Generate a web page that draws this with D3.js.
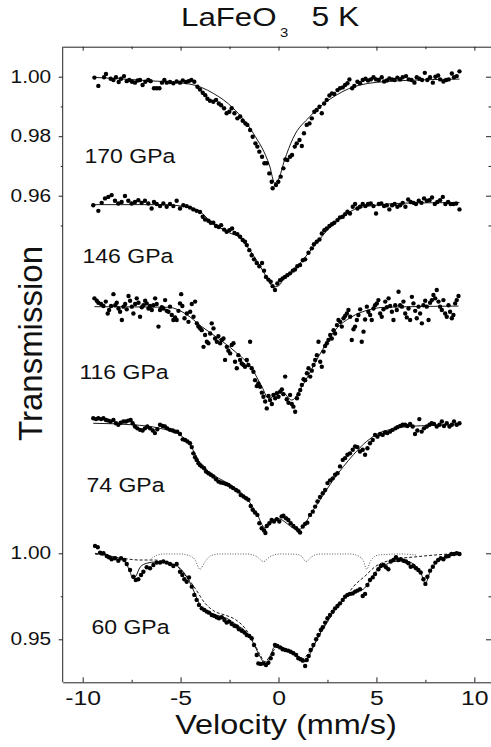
<!DOCTYPE html>
<html>
<head>
<meta charset="utf-8">
<script src="https://cdn.jsdelivr.net/npm/d3@7"></script>
<style>
  body { margin: 0; background: #fff; }
  svg { display: block; }
  svg text { font-family: "Liberation Sans", Arial, Helvetica, sans-serif; fill: #111; }
</style>
</head>
<body>
<div id="chart"></div>
<script>
// velocity (mm/s), transmission; middle spectra normalised to baseline 1 and shifted by offsets
const s170 = [
[-9.40,0.9997],[-9.20,0.9969],[-8.91,0.9998],[-8.81,1.0009],[-8.57,0.9993],[-8.43,0.9989],[-8.30,0.9998],[-8.16,0.9982],
[-8.04,0.9993],[-7.89,1.0002],[-7.75,0.9985],[-7.62,0.9989],[-7.48,0.9983],[-7.33,0.9980],[-7.19,0.9987],[-7.07,0.9989],
[-6.94,0.9972],[-6.80,0.9983],[-6.65,0.9989],[-6.53,0.9985],[-6.36,0.9961],[-6.22,0.9961],[-6.08,0.9961],[-5.95,0.9980],
[-5.83,0.9989],[-5.71,0.9980],[-5.54,0.9982],[-5.37,0.9978],[-5.20,0.9984],[-5.03,0.9980],[-4.89,0.9987],[-4.72,0.9982],
[-4.59,0.9985],[-4.45,0.9989],[-4.30,0.9983],[-4.14,0.9966],[-4.01,0.9957],[-3.87,0.9946],[-3.74,0.9938],[-3.63,0.9926],
[-3.50,0.9919],[-3.33,0.9916],[-3.19,0.9922],[-3.05,0.9910],[-2.93,0.9904],[-2.78,0.9894],[-2.65,0.9877],[-2.51,0.9882],
[-2.39,0.9894],[-2.25,0.9877],[-2.10,0.9860],[-1.96,0.9866],[-1.83,0.9852],[-1.69,0.9843],[-1.59,0.9838],[-1.45,0.9821],
[-1.32,0.9798],[-1.18,0.9776],[-1.08,0.9765],[-0.98,0.9748],[-0.84,0.9731],[-0.72,0.9709],[-0.60,0.9709],[-0.47,0.9675],
[-0.35,0.9647],[-0.30,0.9625],[-0.13,0.9636],[-0.01,0.9647],[0.11,0.9664],[0.25,0.9692],[0.35,0.9722],[0.45,0.9720],
[0.59,0.9731],[0.69,0.9737],[0.83,0.9765],[0.93,0.9776],[1.07,0.9787],[1.19,0.9767],[1.30,0.9810],[1.44,0.9838],
[1.58,0.9843],[1.70,0.9860],[1.83,0.9882],[1.95,0.9888],[2.09,0.9899],[2.21,0.9877],[2.33,0.9910],[2.46,0.9922],
[2.60,0.9937],[2.73,0.9944],[2.85,0.9942],[3.01,0.9955],[3.14,0.9961],[3.28,0.9964],[3.40,0.9972],[3.52,0.9978],
[3.62,0.9991],[3.76,0.9961],[3.87,0.9969],[4.03,0.9983],[4.16,0.9978],[4.30,0.9989],[4.44,0.9993],[4.57,0.9987],
[4.71,0.9991],[4.85,0.9998],[4.98,0.9991],[5.12,0.9989],[5.27,0.9998],[5.39,0.9984],[5.53,0.9987],[5.66,0.9994],
[5.80,0.9991],[5.93,0.9989],[6.07,0.9997],[6.21,0.9991],[6.34,0.9998],[6.51,1.0002],[6.65,0.9991],[6.79,0.9989],
[6.94,0.9980],[7.06,0.9998],[7.19,0.9993],[7.33,0.9989],[7.47,1.0013],[7.60,0.9989],[7.74,0.9998],[7.88,0.9980],
[8.01,1.0000],[8.15,1.0004],[8.25,0.9991],[8.42,0.9984],[8.56,0.9989],[8.69,0.9991],[8.85,1.0011],[8.96,0.9998],
[9.10,1.0002],[9.24,1.0018]
];
const fit170 = [[-9.46,0.9998],[-6.73,0.9987],[-4.52,0.9975],[-3.33,0.9944],[-2.31,0.9894],[-1.29,0.9810],[-0.44,0.9697],
[-0.20,0.9643],[0.00,0.9655],[0.30,0.9718],[0.74,0.9793],[1.60,0.9866],[3.00,0.9940],[4.15,0.9972],[5.80,0.9985],[9.24,0.9992]];

const s146 = [
[-9.46,0.9993],[-9.20,0.9974],[-9.03,1.0001],[-8.86,1.0016],[-8.69,1.0021],[-8.52,1.0027],[-8.35,1.0008],[-8.18,0.9999],
[-8.01,1.0004],[-7.84,1.0024],[-7.67,1.0008],[-7.50,0.9999],[-7.33,1.0004],[-7.16,1.0010],[-6.99,1.0001],[-6.82,1.0008],
[-6.65,0.9999],[-6.48,0.9982],[-6.36,1.0004],[-6.22,0.9997],[-6.05,0.9990],[-5.88,0.9999],[-5.71,0.9988],[-5.54,0.9997],
[-5.37,0.9990],[-5.20,1.0008],[-5.03,0.9982],[-4.86,0.9993],[-4.69,0.9990],[-4.52,0.9985],[-4.35,0.9979],[-4.18,0.9974],
[-4.01,0.9970],[-3.87,0.9954],[-3.75,0.9945],[-3.58,0.9941],[-3.46,0.9934],[-3.33,0.9934],[-3.19,0.9923],[-3.05,0.9920],
[-2.93,0.9926],[-2.78,0.9911],[-2.65,0.9904],[-2.51,0.9909],[-2.37,0.9915],[-2.25,0.9900],[-2.10,0.9896],[-1.96,0.9887],
[-1.83,0.9876],[-1.71,0.9870],[-1.62,0.9859],[-1.49,0.9842],[-1.37,0.9825],[-1.25,0.9811],[-1.11,0.9799],[-0.98,0.9788],
[-0.84,0.9799],[-0.74,0.9773],[-0.64,0.9752],[-0.52,0.9743],[-0.40,0.9736],[-0.30,0.9721],[-0.18,0.9708],[-0.06,0.9730],
[0.08,0.9741],[0.21,0.9747],[0.33,0.9752],[0.45,0.9758],[0.59,0.9764],[0.73,0.9773],[0.84,0.9777],[0.96,0.9788],
[1.10,0.9792],[1.24,0.9808],[1.36,0.9811],[1.53,0.9833],[1.70,0.9848],[1.81,0.9862],[1.95,0.9870],[2.09,0.9878],
[2.21,0.9898],[2.34,0.9909],[2.46,0.9915],[2.60,0.9923],[2.73,0.9929],[2.85,0.9934],[3.01,0.9943],[3.14,0.9952],
[3.28,0.9954],[3.40,0.9963],[3.52,0.9971],[3.65,0.9965],[3.79,0.9988],[3.91,0.9997],[4.03,0.9982],[4.16,0.9988],
[4.30,0.9997],[4.44,0.9990],[4.57,0.9997],[4.71,0.9999],[4.85,0.9990],[4.98,0.9965],[5.12,0.9997],[5.25,0.9999],
[5.39,0.9990],[5.53,0.9993],[5.66,0.9979],[5.80,0.9993],[5.93,0.9997],[6.07,0.9988],[6.21,0.9993],[6.34,1.0001],
[6.48,0.9988],[6.62,1.0012],[6.75,1.0004],[6.89,1.0001],[7.02,0.9997],[7.16,1.0008],[7.30,1.0001],[7.43,1.0016],
[7.57,1.0008],[7.71,1.0010],[7.84,1.0019],[7.98,0.9997],[8.11,1.0004],[8.25,1.0010],[8.39,1.0021],[8.52,0.9997],
[8.66,1.0004],[8.79,0.9997],[8.93,0.9997],[9.07,0.9999],[9.24,0.9979]
];
const fit146 = [[-9.46,0.9995],[-6.00,0.9995],[-4.50,0.9985],[-4.00,0.9972],[-3.50,0.9940],[-3.00,0.9918],[-2.50,0.9900],
[-2.00,0.9885],[-1.50,0.9845],[-1.00,0.9795],[-0.60,0.9750],[-0.25,0.9718],[0.00,0.9722],[0.30,0.9748],[0.70,0.9770],
[1.00,0.9790],[1.50,0.9830],[2.00,0.9870],[2.50,0.9910],[3.00,0.9940],[3.50,0.9965],[4.00,0.9982],[5.00,0.9993],
[6.50,1.0000],[9.24,1.0002]];

const s116 = [
[-9.40,1.0027],[-9.28,1.0019],[-9.20,1.0012],[-9.06,1.0008],[-8.94,1.0001],[-8.82,1.0016],[-8.72,0.9976],[-8.65,0.9988],
[-8.55,1.0001],[-8.43,1.0041],[-8.34,1.0004],[-8.26,1.0012],[-8.17,0.9993],[-8.09,0.9982],[-8.00,0.9954],[-7.92,0.9999],
[-7.83,1.0008],[-7.75,0.9990],[-7.66,1.0035],[-7.58,1.0019],[-7.49,0.9999],[-7.41,0.9976],[-7.32,1.0008],[-7.24,1.0027],
[-7.15,1.0012],[-7.07,0.9965],[-6.98,0.9997],[-6.90,1.0004],[-6.81,1.0019],[-6.73,1.0010],[-6.64,0.9993],[-6.56,1.0001],
[-6.47,0.9988],[-6.39,1.0004],[-6.30,1.0027],[-6.22,1.0008],[-6.13,0.9932],[-6.05,0.9988],[-5.96,0.9997],[-5.88,0.9993],
[-5.79,1.0021],[-5.71,0.9985],[-5.62,0.9982],[-5.54,0.9999],[-5.45,0.9971],[-5.37,0.9954],[-5.28,0.9963],[-5.20,0.9954],
[-5.11,0.9985],[-5.03,1.0010],[-4.97,1.0041],[-4.91,1.0001],[-4.80,0.9960],[-4.68,0.9976],[-4.60,0.9948],[-4.51,0.9982],
[-4.43,1.0008],[-4.34,0.9965],[-4.26,1.0016],[-4.17,0.9943],[-4.09,0.9932],[-4.00,0.9926],[-3.92,0.9920],[-3.83,0.9864],
[-3.75,0.9904],[-3.66,0.9881],[-3.58,0.9876],[-3.49,0.9909],[-3.41,0.9943],[-3.32,0.9926],[-3.24,0.9892],[-3.15,0.9881],
[-3.07,0.9900],[-2.98,0.9876],[-2.90,0.9887],[-2.81,0.9892],[-2.73,0.9820],[-2.64,0.9864],[-2.56,0.9851],[-2.47,0.9842],
[-2.39,0.9870],[-2.30,0.9876],[-2.22,0.9814],[-2.13,0.9792],[-2.05,0.9836],[-1.96,0.9820],[-1.88,0.9808],[-1.79,0.9803],
[-1.71,0.9797],[-1.62,0.9820],[-1.54,0.9803],[-1.45,0.9881],[-1.37,0.9792],[-1.28,0.9780],[-1.20,0.9752],[-1.11,0.9732],
[-1.03,0.9741],[-0.94,0.9730],[-0.85,0.9710],[-0.77,0.9696],[-0.68,0.9680],[-0.60,0.9657],[-0.51,0.9699],[-0.43,0.9685],
[-0.34,0.9672],[-0.26,0.9702],[-0.17,0.9691],[-0.09,0.9708],[0.00,0.9696],[0.08,0.9713],[0.17,0.9721],[0.25,0.9705],
[0.34,0.9764],[0.42,0.9688],[0.51,0.9676],[0.59,0.9702],[0.68,0.9672],[0.76,0.9663],[0.85,0.9646],[0.94,0.9691],
[1.02,0.9705],[1.11,0.9719],[1.19,0.9736],[1.28,0.9755],[1.36,0.9752],[1.45,0.9775],[1.53,0.9792],[1.62,0.9764],
[1.70,0.9784],[1.79,0.9803],[1.87,0.9820],[1.96,0.9836],[2.04,0.9881],[2.13,0.9814],[2.21,0.9797],[2.30,0.9848],
[2.38,0.9867],[2.47,0.9876],[2.55,0.9887],[2.64,0.9904],[2.72,0.9892],[2.81,0.9920],[2.89,0.9909],[2.98,0.9937],
[3.06,0.9954],[3.15,0.9948],[3.23,0.9932],[3.32,0.9960],[3.40,0.9968],[3.49,0.9976],[3.57,0.9988],[3.66,0.9965],
[3.74,0.9887],[3.83,0.9923],[3.91,0.9932],[4.00,0.9954],[4.08,0.9971],[4.17,0.9990],[4.25,0.9881],[4.34,0.9915],
[4.42,0.9956],[4.51,0.9999],[4.59,0.9982],[4.68,0.9971],[4.76,0.9954],[4.85,0.9993],[4.93,1.0004],[5.02,1.0010],
[5.10,1.0021],[5.19,0.9976],[5.27,0.9965],[5.36,0.9990],[5.45,1.0016],[5.53,0.9997],[5.62,1.0027],[5.70,1.0001],
[5.79,0.9982],[5.87,0.9954],[5.96,1.0004],[6.04,0.9988],[6.13,1.0049],[6.21,1.0004],[6.30,0.9999],[6.38,1.0016],
[6.47,0.9976],[6.55,0.9963],[6.64,0.9993],[6.72,0.9954],[6.81,1.0032],[6.89,1.0010],[6.98,0.9985],[7.06,0.9960],
[7.15,0.9999],[7.23,0.9976],[7.32,0.9943],[7.40,1.0004],[7.49,1.0019],[7.57,0.9999],[7.66,0.9954],[7.74,1.0012],
[7.83,1.0021],[7.91,1.0038],[8.00,1.0027],[8.08,1.0055],[8.17,1.0016],[8.25,0.9999],[8.34,0.9988],[8.42,1.0021],
[8.51,0.9976],[8.59,0.9965],[8.68,1.0004],[8.76,0.9982],[8.85,0.9960],[8.93,0.9971],[9.02,1.0010],[9.10,1.0021],
[9.19,1.0035]
];
const fit116 = [[-9.40,0.9999],[-5.62,0.9997],[-4.77,0.9976],[-3.92,0.9932],[-3.07,0.9892],[-2.22,0.9848],[-1.37,0.9792],
[-0.85,0.9730],[-0.51,0.9691],[0.17,0.9713],[0.68,0.9685],[1.19,0.9730],[2.04,0.9831],[2.89,0.9920],[3.74,0.9965],
[4.59,0.9988],[5.45,0.9997],[9.19,1.0001]];

const s74 = [
[-9.46,1.0019],[-9.32,1.0016],[-9.20,1.0019],[-9.06,1.0016],[-8.94,1.0019],[-8.81,1.0013],[-8.69,1.0011],[-8.57,1.0008],
[-8.43,1.0013],[-8.30,1.0002],[-8.18,0.9997],[-8.06,1.0004],[-7.92,1.0008],[-7.79,1.0008],[-7.67,1.0011],[-7.55,1.0013],
[-7.45,1.0002],[-7.33,0.9991],[-7.21,0.9985],[-7.07,0.9980],[-6.94,0.9978],[-6.82,0.9985],[-6.70,0.9991],[-6.56,0.9985],
[-6.42,0.9978],[-6.31,0.9969],[-6.19,0.9982],[-6.05,0.9997],[-5.91,0.9993],[-5.80,0.9991],[-5.68,0.9985],[-5.54,0.9980],
[-5.40,0.9978],[-5.28,0.9974],[-5.17,0.9974],[-5.03,0.9966],[-4.89,0.9948],[-4.77,0.9946],[-4.65,0.9941],[-4.52,0.9935],
[-4.43,0.9922],[-4.35,0.9901],[-4.26,0.9888],[-4.18,0.9879],[-4.09,0.9868],[-4.01,0.9862],[-3.92,0.9857],[-3.80,0.9851],
[-3.70,0.9840],[-3.58,0.9834],[-3.46,0.9829],[-3.33,0.9823],[-3.19,0.9814],[-3.07,0.9806],[-2.95,0.9803],[-2.82,0.9801],
[-2.68,0.9798],[-2.56,0.9795],[-2.44,0.9789],[-2.31,0.9784],[-2.17,0.9778],[-2.05,0.9773],[-1.93,0.9761],[-1.79,0.9756],
[-1.66,0.9750],[-1.54,0.9745],[-1.42,0.9724],[-1.32,0.9711],[-1.20,0.9702],[-1.08,0.9694],[-0.98,0.9666],[-0.86,0.9649],
[-0.74,0.9642],[-0.67,0.9633],[-0.60,0.9657],[-0.47,0.9666],[-0.35,0.9677],[-0.23,0.9672],[-0.09,0.9680],[0.04,0.9672],
[0.16,0.9689],[0.25,0.9691],[0.38,0.9683],[0.50,0.9677],[0.62,0.9666],[0.76,0.9657],[0.90,0.9649],[1.01,0.9642],
[1.10,0.9635],[1.24,0.9655],[1.36,0.9664],[1.47,0.9668],[1.61,0.9694],[1.75,0.9705],[1.87,0.9722],[1.99,0.9739],
[2.12,0.9754],[2.26,0.9767],[2.38,0.9778],[2.50,0.9801],[2.63,0.9810],[2.77,0.9817],[2.89,0.9829],[3.01,0.9834],
[3.14,0.9857],[3.28,0.9879],[3.40,0.9885],[3.52,0.9896],[3.65,0.9901],[3.79,0.9913],[3.91,0.9924],[4.03,0.9922],
[4.16,0.9907],[4.30,0.9913],[4.42,0.9896],[4.54,0.9918],[4.67,0.9935],[4.81,0.9946],[4.93,0.9963],[5.05,0.9957],
[5.19,0.9966],[5.32,0.9963],[5.44,0.9971],[5.56,0.9969],[5.70,0.9974],[5.83,0.9980],[5.97,0.9985],[6.07,0.9989],
[6.21,0.9993],[6.34,0.9997],[6.46,0.9997],[6.58,0.9993],[6.72,1.0000],[6.85,0.9991],[6.97,0.9966],[7.09,0.9978],
[7.19,1.0016],[7.31,0.9974],[7.43,0.9985],[7.57,0.9991],[7.71,0.9997],[7.82,1.0002],[7.94,1.0000],[8.08,0.9991],
[8.22,0.9997],[8.34,1.0008],[8.45,0.9993],[8.59,1.0002],[8.73,0.9991],[8.85,0.9997],[8.96,1.0008],[9.10,0.9997],
[9.24,1.0002]
];
const fit74 = [[-9.46,1.0002],[-7.45,0.9997],[-6.05,0.9985],[-5.03,0.9963],[-4.52,0.9930],[-4.01,0.9868],[-3.33,0.9829],
[-2.31,0.9789],[-1.63,0.9750],[-1.12,0.9700],[-0.69,0.9650],[-0.09,0.9683],[1.01,0.9644],[1.78,0.9711],[2.80,0.9812],
[3.82,0.9896],[4.50,0.9941],[5.35,0.9975],[7.05,0.9993],[9.24,0.9997]];

const s60 = [
[-9.37,1.0043],[-9.23,1.0035],[-9.11,1.0004],[-8.94,1.0000],[-8.77,0.9984],[-8.66,0.9977],[-8.52,0.9965],[-8.35,0.9971],
[-8.18,0.9957],[-8.04,0.9971],[-7.87,0.9961],[-7.75,0.9938],[-7.58,0.9903],[-7.41,0.9864],[-7.29,0.9845],[-7.16,0.9849],
[-7.02,0.9874],[-6.90,0.9893],[-6.73,0.9919],[-6.56,0.9913],[-6.39,0.9932],[-6.22,0.9946],[-6.05,0.9946],[-5.88,0.9952],
[-5.71,0.9946],[-5.54,0.9938],[-5.37,0.9926],[-5.20,0.9938],[-5.03,0.9893],[-4.91,0.9874],[-4.81,0.9849],[-4.69,0.9835],
[-4.57,0.9860],[-4.43,0.9806],[-4.30,0.9758],[-4.18,0.9729],[-4.06,0.9700],[-3.92,0.9680],[-3.79,0.9671],[-3.67,0.9661],
[-3.55,0.9655],[-3.41,0.9641],[-3.28,0.9636],[-3.16,0.9628],[-3.04,0.9622],[-2.90,0.9628],[-2.76,0.9612],[-2.65,0.9597],
[-2.53,0.9603],[-2.39,0.9589],[-2.25,0.9578],[-2.13,0.9574],[-2.02,0.9558],[-1.88,0.9550],[-1.74,0.9539],[-1.62,0.9525],
[-1.49,0.9519],[-1.37,0.9506],[-1.25,0.9467],[-1.11,0.9409],[-1.03,0.9360],[-0.91,0.9357],[-0.77,0.9360],[-0.64,0.9351],
[-0.52,0.9364],[-0.40,0.9390],[-0.30,0.9415],[-0.18,0.9467],[-0.06,0.9461],[0.08,0.9453],[0.21,0.9442],[0.35,0.9438],
[0.49,0.9434],[0.62,0.9428],[0.76,0.9419],[0.90,0.9409],[1.01,0.9390],[1.13,0.9384],[1.24,0.9376],[1.36,0.9345],
[1.44,0.9380],[1.54,0.9403],[1.64,0.9438],[1.78,0.9467],[1.92,0.9500],[2.04,0.9525],[2.16,0.9554],[2.26,0.9570],
[2.38,0.9597],[2.50,0.9622],[2.63,0.9641],[2.77,0.9661],[2.89,0.9680],[3.01,0.9694],[3.14,0.9709],[3.28,0.9729],
[3.40,0.9748],[3.52,0.9758],[3.65,0.9764],[3.79,0.9767],[3.91,0.9777],[4.03,0.9783],[4.16,0.9791],[4.30,0.9752],
[4.42,0.9764],[4.54,0.9816],[4.67,0.9845],[4.81,0.9860],[4.93,0.9880],[5.10,0.9907],[5.22,0.9926],[5.36,0.9932],
[5.49,0.9919],[5.61,0.9907],[5.73,0.9952],[5.87,0.9961],[6.00,0.9977],[6.12,0.9961],[6.24,0.9965],[6.38,0.9957],
[6.51,0.9952],[6.63,0.9942],[6.75,0.9922],[6.89,0.9926],[7.02,0.9913],[7.14,0.9903],[7.26,0.9888],[7.40,0.9849],
[7.50,0.9822],[7.60,0.9864],[7.74,0.9899],[7.88,0.9922],[8.01,0.9946],[8.15,0.9961],[8.28,0.9971],[8.42,0.9965],
[8.56,0.9981],[8.69,0.9984],[8.83,0.9996],[8.96,0.9996],[9.10,1.0000],[9.24,0.9996]
];
const fit60 = [[-9.37,1.0000],[-8.60,0.9984],[-8.09,0.9969],[-7.79,0.9942],[-7.58,0.9893],[-7.45,0.9855],[-7.28,0.9868],
[-7.07,0.9919],[-6.73,0.9942],[-6.22,0.9950],[-5.54,0.9942],[-5.03,0.9913],[-4.69,0.9864],[-4.35,0.9787],[-4.01,0.9700],
[-3.67,0.9667],[-3.16,0.9641],[-2.65,0.9622],[-2.13,0.9583],[-1.62,0.9539],[-1.28,0.9477],[-0.94,0.9399],[-0.69,0.9360],
[-0.43,0.9390],[-0.23,0.9453],[0.08,0.9457],[0.59,0.9428],[1.10,0.9395],[1.36,0.9370],[1.61,0.9415],[1.95,0.9496],
[2.46,0.9603],[2.97,0.9686],[3.48,0.9748],[3.99,0.9777],[4.33,0.9791],[4.59,0.9826],[4.93,0.9888],[5.36,0.9926],
[5.87,0.9952],[6.38,0.9957],[6.89,0.9938],[7.26,0.9888],[7.50,0.9826],[7.74,0.9893],[8.08,0.9952],[8.59,0.9981],
[9.24,0.9996]];
const dash60 = [[-9.37,0.9996],[-8.09,0.9973],[-7.07,0.9961],[-6.39,0.9961],[-5.71,0.9948],[-5.20,0.9926],[-4.77,0.9874],
[-4.26,0.9797],[-3.75,0.9709],[-3.24,0.9661],[-2.73,0.9641],[-2.22,0.9616],[-1.71,0.9564],[-1.28,0.9486],[-0.94,0.9409],
[-0.69,0.9370],[-0.35,0.9419],[-0.01,0.9461],[0.42,0.9438],[0.93,0.9403],[1.19,0.9384],[1.53,0.9419],[1.95,0.9496],
[2.46,0.9593],[2.97,0.9680],[3.40,0.9738],[3.82,0.9806],[4.42,0.9868],[4.93,0.9922],[5.78,0.9961],[7.14,0.9981],
[9.24,1.0000]];
const dot60 = [[-6.48,0.9971],[-6.22,0.9988],[-5.88,0.9996],[-5.03,0.9996],[-4.60,0.9988],[-4.26,0.9961],[-4.01,0.9907],
[-3.75,0.9952],[-3.41,0.9988],[-2.99,0.9996],[-1.62,0.9996],[-1.11,0.9981],[-0.77,0.9952],[-0.43,0.9981],[0.08,0.9996],
[0.93,0.9994],[1.19,0.9981],[1.41,0.9952],[1.70,0.9981],[2.12,0.9996],[3.65,0.9996],[4.08,0.9984],[4.33,0.9957],
[4.50,0.9907],[4.71,0.9957],[5.10,0.9990],[6.21,0.9996],[7.06,0.9990]];

const pressures = ["170 GPa", "146 GPa", "116 GPa", "74 GPa", "60 GPa"];
const offsets = [0, 0.0425, 0.0772, 0.1167, 0];
const xMajor = [-10, -5, 0, 5, 10];
const xMinor = [-7.5, -2.5, 2.5, 7.5];
const topMajor = [1.00, 0.98, 0.96];
const topMinor = [0.99, 0.97, 0.95];
const botMajor = [1.00, 0.95];
const botMinor = [0.975];

const W = 491, H = 747;
const pL = 62.7, pR = 491, pT = 46.7, pB = 682.3;
const SX = 1.18; // the scanned lettering is a bit wider than Arial

const svg = d3.select("#chart").append("svg").attr("width", W).attr("height", H);

const x = d3.scaleLinear().domain([-11.02, 10.85]).range([pL, pR]);
const yTop = d3.scaleLinear().domain([1.0, 0.96]).range([76.7, 195.7]);
const yBot = d3.scaleLinear().domain([1.0, 0.95]).range([553.3, 639.3]);

// frame + ticks
const axColor = "#222";
function clean(g) {
  g.attr("font-family", null).attr("font-size", null);
  g.selectAll("line").attr("stroke", axColor);
  g.select(".domain").attr("stroke", axColor);
}

const gxb = svg.append("g").attr("transform", `translate(0,${pB})`)
  .call(d3.axisBottom(x).tickValues(xMajor).tickSizeInner(-5).tickSizeOuter(0).tickPadding(8).tickFormat(d => String(d)));
clean(gxb);
gxb.selectAll("text").attr("font-size", 21).attr("transform", `scale(${SX},1)`);
const gxb2 = svg.append("g").attr("transform", `translate(0,${pB})`)
  .call(d3.axisBottom(x).tickValues(xMinor).tickSizeInner(-2.5).tickSizeOuter(0).tickFormat(""));
clean(gxb2); gxb2.select(".domain").remove();

const gxt = svg.append("g").attr("transform", `translate(0,${pT})`)
  .call(d3.axisTop(x).tickValues(xMajor).tickSizeInner(-4).tickSizeOuter(0).tickFormat(""));
clean(gxt);
const gxt2 = svg.append("g").attr("transform", `translate(0,${pT})`)
  .call(d3.axisTop(x).tickValues(xMinor).tickSizeInner(-2.5).tickSizeOuter(0).tickFormat(""));
clean(gxt2); gxt2.select(".domain").remove();

svg.append("line").attr("x1", pL).attr("x2", pL).attr("y1", pT).attr("y2", pB)
  .attr("stroke", axColor).attr("stroke-width", 1);

function yAxes(scale, major, minor) {
  const gl = svg.append("g").attr("transform", `translate(${pL},0)`)
    .call(d3.axisLeft(scale).tickValues(major).tickSizeInner(4).tickSizeOuter(0).tickPadding(7.5).tickFormat(d3.format(".2f")));
  clean(gl); gl.select(".domain").remove();
  gl.selectAll("text").attr("font-size", 17.7).attr("x", 0)
    .attr("transform", `translate(-11.5,0) scale(${SX},1)`);
  const gl2 = svg.append("g").attr("transform", `translate(${pL},0)`)
    .call(d3.axisLeft(scale).tickValues(minor).tickSizeInner(2).tickSizeOuter(0).tickFormat(""));
  clean(gl2); gl2.select(".domain").remove();
  const gr = svg.append("g").attr("transform", `translate(${pR},0)`)
    .call(d3.axisRight(scale).tickValues(major).tickSizeInner(-5).tickSizeOuter(0).tickFormat(""));
  clean(gr); gr.select(".domain").remove();
  const gr2 = svg.append("g").attr("transform", `translate(${pR},0)`)
    .call(d3.axisRight(scale).tickValues(minor).tickSizeInner(-2.5).tickSizeOuter(0).tickFormat(""));
  clean(gr2); gr2.select(".domain").remove();
}
yAxes(yTop, topMajor, topMinor);
yAxes(yBot, botMajor, botMinor);

// spectra
const spectra = [
  {pts: s170, fit: fit170, y: yTop, lx: 84.5, ly: 163.3},
  {pts: s146, fit: fit146, y: yTop, lx: 82.5, ly: 263.3},
  {pts: s116, fit: fit116, y: yTop, lx: 79.5, ly: 379.3},
  {pts: s74,  fit: fit74,  y: yTop, lx: 86.5, ly: 492},
  {pts: s60,  fit: fit60,  y: yBot, lx: 91.5, ly: 633.7}
];

spectra.forEach((sp, i) => {
  const off = offsets[i];
  const yy = T => sp.y(T - off);
  const line = d3.line().x(d => x(d[0])).y(d => yy(d[1])).curve(d3.curveMonotoneX);
  const g = svg.append("g");

  g.selectAll("circle").data(sp.pts).join("circle")
    .attr("cx", d => x(d[0])).attr("cy", d => yy(d[1]))
    .attr("r", 2.2).attr("fill", "#000");

  if (i === 4) {
    g.append("path").datum(dash60).attr("d", line).attr("fill", "none")
      .attr("stroke", "#000").attr("stroke-width", 0.9).attr("stroke-dasharray", "3,2");
    g.append("path").datum(dot60).attr("d", line).attr("fill", "none")
      .attr("stroke", "#444").attr("stroke-width", 0.9).attr("stroke-dasharray", "1,1.6");
  }
  g.append("path").datum(sp.fit).attr("d", line).attr("fill", "none")
    .attr("stroke", "#000").attr("stroke-width", 0.9);

  svg.append("text").attr("transform", `translate(${sp.lx},${sp.ly}) scale(${SX},1)`)
    .attr("font-size", 19.5).text(pressures[i]);
});

// title
svg.append("text").attr("transform", `translate(181,26.2) scale(${SX},1)`)
  .attr("font-size", 26.5).text("LaFeO");
svg.append("text").attr("transform", `translate(280,37.3) scale(${SX},1)`)
  .attr("font-size", 12.6).text("3");
svg.append("text").attr("transform", `translate(311.5,26.2) scale(${SX},1)`)
  .attr("font-size", 27).text("5 K");

// axis titles
svg.append("text").attr("transform", `translate(286,734) scale(${SX},1)`)
  .attr("font-size", 27.5).attr("text-anchor", "middle").text("Velocity (mm/s)");
svg.append("text").attr("transform", "translate(42,343.5) rotate(-90)")
  .attr("font-size", 33).attr("text-anchor", "middle").text("Transmission");
</script>
</body>
</html>
